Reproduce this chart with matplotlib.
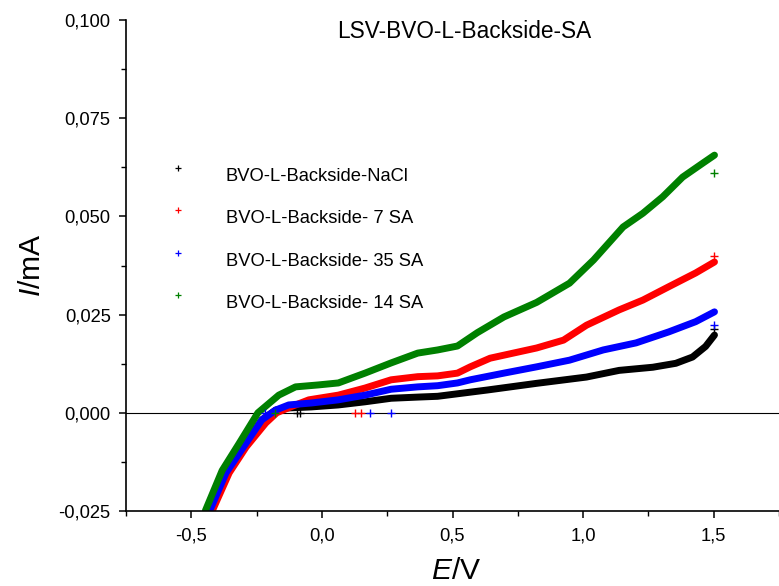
import matplotlib
matplotlib.use("Agg")
import matplotlib.pyplot as plt
from matplotlib.ticker import MultipleLocator, FuncFormatter
from matplotlib.lines import Line2D
from matplotlib.transforms import ScaledTranslation

plt.rcParams['font.family'] = ['Liberation Sans', 'DejaVu Sans']
plt.rcParams['mathtext.fontset'] = 'custom'
plt.rcParams['mathtext.it'] = 'Liberation Sans:italic'
plt.rcParams['mathtext.rm'] = 'Liberation Sans'

# ---- data ----
labels = ["BVO-L-Backside-NaCl", "BVO-L-Backside- 7 SA",
          "BVO-L-Backside- 35 SA", "BVO-L-Backside- 14 SA"]
colors = ["black", "red", "blue", "green"]

E_nacl = [-0.43, -0.367, -0.29, -0.23, -0.177, -0.14, -0.04, 0.063, 0.165, 0.265,
          0.367, 0.443, 0.633, 0.822, 1.013, 1.138, 1.267, 1.355, 1.419, 1.469, 1.503]
I_nacl = [-0.025, -0.0153, -0.0077, -0.0018, 0.0007, 0.0012, 0.0015, 0.0020, 0.0028, 0.0037,
          0.0040, 0.0042, 0.0058, 0.0075, 0.0091, 0.0108, 0.0116, 0.0126, 0.0142, 0.0169, 0.0198]

E_7sa = [-0.42, -0.355, -0.29, -0.215, -0.173, -0.12, -0.05, 0.063, 0.165, 0.265, 0.367,
         0.443, 0.519, 0.568, 0.644, 0.822, 0.925, 1.013, 1.138, 1.229, 1.328, 1.431, 1.503]
I_7sa = [-0.025, -0.0153, -0.0087, -0.0026, 0.0, 0.0015, 0.0033, 0.0045, 0.0063, 0.0084, 0.0092,
         0.0094, 0.0101, 0.0117, 0.0139, 0.0165, 0.0185, 0.0223, 0.0262, 0.0287, 0.0321, 0.0356, 0.0384]

E_35sa = [-0.43, -0.367, -0.29, -0.23, -0.177, -0.127, -0.04, 0.063, 0.165, 0.265, 0.367,
          0.443, 0.519, 0.568, 0.697, 0.822, 0.948, 1.077, 1.203, 1.328, 1.431, 1.503]
I_35sa = [-0.025, -0.0153, -0.0077, -0.0018, 0.0007, 0.0020, 0.0025, 0.0033, 0.0045, 0.0060, 0.0066,
          0.0069, 0.0076, 0.0084, 0.0101, 0.0117, 0.0134, 0.0160, 0.0178, 0.0206, 0.0232, 0.0257]

E_14sa = [-0.446, -0.382, -0.317, -0.245, -0.165, -0.101, -0.013, 0.063, 0.165, 0.265, 0.367,
          0.443, 0.519, 0.595, 0.697, 0.822, 0.948, 1.04, 1.153, 1.229, 1.305, 1.381, 1.457, 1.503]
I_14sa = [-0.0249, -0.0147, -0.0078, 0.0, 0.0045, 0.0066, 0.0071, 0.0076, 0.0101, 0.0127, 0.0152,
          0.0160, 0.0170, 0.0204, 0.0244, 0.0281, 0.0330, 0.0389, 0.0473, 0.0508, 0.0550, 0.0600, 0.0635, 0.0656]

# isolated single points of each series
E_pts_nacl = [-0.096, -0.082, 1.503]
I_pts_nacl = [0.0, 0.0, 0.0213]
E_pts_7sa = [0.126, 0.151, 1.503]
I_pts_7sa = [0.0, 0.0, 0.0399]
E_pts_35sa = [-0.216, 0.185, 0.265, 1.503]
I_pts_35sa = [0.0, 0.0, 0.0, 0.0223]
E_pts_14sa = [-0.178, 1.503]
I_pts_14sa = [0.0, 0.0610]

curves = [(E_nacl, I_nacl, E_pts_nacl, I_pts_nacl),
          (E_7sa, I_7sa, E_pts_7sa, I_pts_7sa),
          (E_35sa, I_35sa, E_pts_35sa, I_pts_35sa),
          (E_14sa, I_14sa, E_pts_14sa, I_pts_14sa)]

# ---- figure ----
W, H = 779, 586
fig = plt.figure(figsize=(W / 100, H / 100), dpi=100)
ax = fig.add_axes([126 / W, 75 / H, 653 / W, 491 / H])

ax.axhline(0, color="black", lw=0.8, zorder=1)

for (E, I, Ep, Ip), c in zip(curves, colors):
    ax.plot(E, I, color=c, lw=5.0, solid_capstyle="round", solid_joinstyle="round", zorder=2)
    ax.plot(Ep, Ip, ls="none", marker="+", ms=6, mew=1.0, color=c, zorder=3)

ax.set_xlim(-0.75, 1.75)
ax.set_ylim(-0.025, 0.100)

ax.xaxis.set_major_locator(MultipleLocator(0.5))
ax.xaxis.set_minor_locator(MultipleLocator(0.25))
ax.yaxis.set_major_locator(MultipleLocator(0.025))
ax.yaxis.set_minor_locator(MultipleLocator(0.0125))

ax.xaxis.set_major_formatter(FuncFormatter(lambda v, p: f"{v:.1f}".replace(".", ",")))
ax.yaxis.set_major_formatter(FuncFormatter(lambda v, p: f"{v:.3f}".replace(".", ",")))

for s in ["top", "right"]:
    ax.spines[s].set_visible(False)
for s in ["left", "bottom"]:
    ax.spines[s].set_linewidth(1.2)

ax.tick_params(which="major", direction="out", length=5, width=1.1, labelsize=13.2)
ax.tick_params(which="minor", direction="out", length=3.5, width=1.0)
ax.tick_params(axis="x", which="major", pad=7)
ax.tick_params(axis="y", which="major", pad=6)

ax.set_xlabel("$\\mathit{E}$/V", fontsize=21.6)
ax.set_ylabel("$\\mathit{I}$/mA", fontsize=21.6)
ax.xaxis.set_label_coords(0.505, -0.094)
ax.yaxis.set_label_coords(-0.1225, 0.5)

ax.text(0.5176, 0.963, "LSV-BVO-L-Backside-SA", transform=ax.transAxes,
        ha="center", va="baseline", fontsize=16.3)

handles = [Line2D([], [], ls="none", marker="+", ms=5, mew=0.9, color=c) for c in colors]
leg = ax.legend(handles, labels, loc="upper left", bbox_to_anchor=(0.0658, 0.6986),
                frameon=False, fontsize=13.2, borderpad=0, borderaxespad=0,
                handlelength=1.0, handletextpad=2.1, labelspacing=1.38)
# in the reference the legend symbols sit a little above the text centre
shift = ScaledTranslation(0, 6.5 / 100, fig.dpi_scale_trans)
for h in leg.legend_handles:
    h.set_transform(h.get_transform() + shift)

fig.savefig("out.png", dpi=100)
